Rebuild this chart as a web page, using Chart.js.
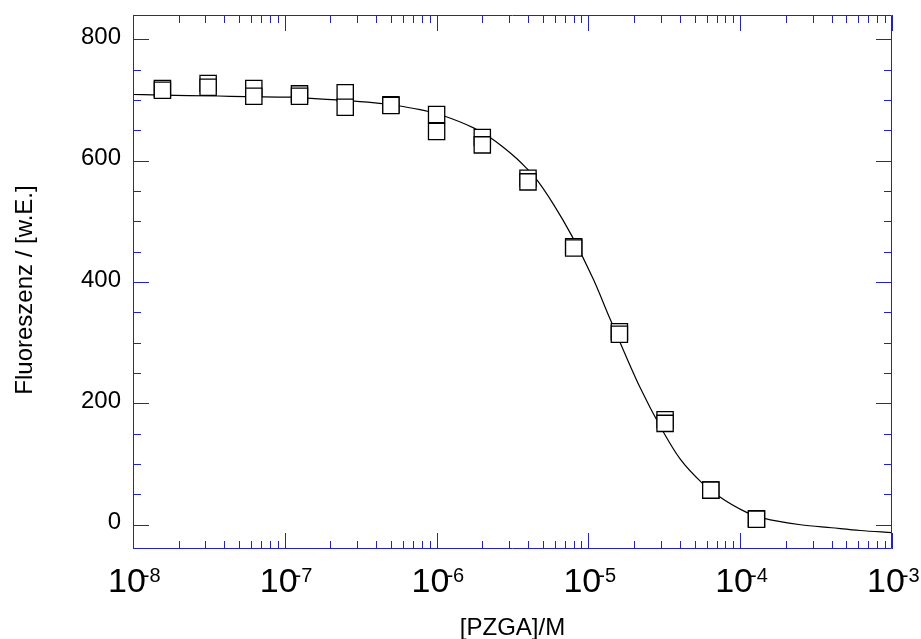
<!DOCTYPE html>
<html>
<head>
<meta charset="utf-8">
<title>Fluoreszenz vs [PZGA]</title>
<script src="https://cdn.jsdelivr.net/npm/chart.js@4/dist/chart.umd.min.js"></script>
<style>
  html, body { margin: 0; padding: 0; background: #fff; }
  #wrap { width: 921px; height: 639px; }
</style>
</head>
<body>
<div id="wrap"><canvas id="my-chart" width="921" height="639"></canvas></div>
<script>
// measured points (two readings per concentration)
const conc = [1.5625e-8, 3.125e-8, 6.25e-8, 1.25e-7, 2.5e-7, 5e-7, 1e-6, 2e-6, 4e-6, 8e-6, 1.6e-5, 3.2e-5, 6.4e-5, 1.28e-4];
const fluorA = [719, 727, 719, 710, 712, 692, 676, 638, 571, 458, 318, 173, 57, 10];
const fluorB = [716, 721, 706, 706, 688, 691, 648, 626, 565, 456, 314, 167, 57, 9];

// fitted curve
const fitConc = [1e-8, 1.56e-8, 3.63e-8, 5.47e-8, 1.08e-7, 1.4e-7, 2.2e-7, 2.76e-7, 4.36e-7, 5.6e-7, 7.78e-7, 8.83e-7,
  1.11e-6, 1.75e-6, 2.25e-6, 2.75e-6, 3.38e-6, 3.89e-6, 4.46e-6, 5.89e-6, 7.78e-6, 1.08e-5, 1.39e-5, 2.19e-5,
  3.05e-5, 4.03e-5, 5.6e-5, 7.03e-5, 1.11e-4, 1.42e-4, 2.5e-4, 4e-4, 6.18e-4, 1e-3];
const fitFluor = [709, 708, 706.5, 705.5, 704.5, 703, 700, 698.5, 694, 690.5, 684, 681,
  674, 654, 638, 622, 603, 588, 572, 528, 476, 404, 339, 226,
  157, 108, 69, 49, 20, 11, 0, -5, -9.5, -13];

// axes
const xMajor = [1e-8, 1e-7, 1e-6, 1e-5, 1e-4, 1e-3];
const xExponents = ["-8", "-7", "-6", "-5", "-4", "-3"];
const yMajor = [0, 200, 400, 600, 800];
const yLabels = ["0", "200", "400", "600", "800"];
const yMinor = [50, 100, 150, 250, 300, 350, 450, 500, 550, 650, 700, 750];

const axisBlue = "rgb(30, 30, 220)";
const fontName = "'Liberation Sans', Arial, sans-serif";

const framePlugin = {
  id: "frame",
  afterDraw(chart) {
    const ctx = chart.ctx;
    const xs = chart.scales.x;
    const ys = chart.scales.y;
    const a = chart.chartArea;
    ctx.save();
    ctx.strokeStyle = axisBlue;
    ctx.lineWidth = 1;
    ctx.beginPath();
    ctx.rect(a.left + 0.5, a.top + 0.5, a.right - a.left - 1, a.bottom - a.top - 1);
    ctx.stroke();

    // x ticks, bottom and top, pointing inward
    const xMinor = [];
    for (let i = 0; i < xMajor.length - 1; i++) {
      for (let k = 2; k <= 9; k++) xMinor.push(xMajor[i] * k);
    }
    ctx.beginPath();
    xMajor.forEach(v => {
      const px = Math.round(xs.getPixelForValue(v)) + 0.5;
      ctx.moveTo(px, a.bottom); ctx.lineTo(px, a.bottom - 16);
      ctx.moveTo(px, a.top); ctx.lineTo(px, a.top + 16);
    });
    xMinor.forEach(v => {
      const px = Math.round(xs.getPixelForValue(v)) + 0.5;
      ctx.moveTo(px, a.bottom); ctx.lineTo(px, a.bottom - 8);
      ctx.moveTo(px, a.top); ctx.lineTo(px, a.top + 8);
    });
    // y ticks, left and right
    yMajor.forEach(v => {
      const py = Math.round(ys.getPixelForValue(v)) + 0.5;
      ctx.moveTo(a.left, py); ctx.lineTo(a.left + 16, py);
      ctx.moveTo(a.right, py); ctx.lineTo(a.right - 16, py);
    });
    yMinor.forEach(v => {
      const py = Math.round(ys.getPixelForValue(v)) + 0.5;
      ctx.moveTo(a.left, py); ctx.lineTo(a.left + 8, py);
      ctx.moveTo(a.right, py); ctx.lineTo(a.right - 8, py);
    });
    ctx.stroke();

    // tick labels
    ctx.fillStyle = "#000";
    ctx.font = "24px " + fontName;
    ctx.textAlign = "right";
    ctx.textBaseline = "middle";
    yMajor.forEach((v, i) => {
      ctx.fillText(yLabels[i], a.left - 12, ys.getPixelForValue(v) - 2);
    });

    ctx.textAlign = "left";
    ctx.textBaseline = "alphabetic";
    xMajor.forEach((v, i) => {
      const px = xs.getPixelForValue(v);
      ctx.font = "34px " + fontName;
      ctx.fillText("10", px - 25, 592);
      const w = ctx.measureText("10").width;
      ctx.font = "20px " + fontName;
      ctx.fillText(xExponents[i], px - 25 + w - 3, 582);
    });

    // axis titles
    ctx.font = "24px " + fontName;
    ctx.textAlign = "center";
    ctx.fillText("[PZGA]/M", (a.left + a.right) / 2, 635);
    ctx.translate(32, 290);
    ctx.rotate(-Math.PI / 2);
    ctx.textBaseline = "alphabetic";
    ctx.fillText("Fluoreszenz / [w.E.]", 0, 0);
    ctx.restore();
  }
};

const toPoints = (xsArr, ysArr) => xsArr.map((x, i) => ({ x: x, y: ysArr[i] }));

const ctx = document.getElementById("my-chart").getContext("2d");
const chart = new Chart(ctx, {
  type: "scatter",
  data: {
    datasets: [
      {
        label: "Messung 1",
        data: toPoints(conc, fluorA),
        pointStyle: "rect",
        pointRadius: 11.5,
        pointBorderWidth: 1.3,
        borderColor: "#000",
        backgroundColor: "#fff",
        order: 1
      },
      {
        label: "Messung 2",
        data: toPoints(conc, fluorB),
        pointStyle: "rect",
        pointRadius: 11.5,
        pointBorderWidth: 1.3,
        borderColor: "#000",
        backgroundColor: "#fff",
        order: 0
      },
      {
        label: "Fit",
        data: toPoints(fitConc, fitFluor),
        showLine: true,
        pointRadius: 0,
        borderColor: "#000",
        borderWidth: 1.2,
        cubicInterpolationMode: "monotone",
        order: 2
      }
    ]
  },
  options: {
    responsive: false,
    animation: false,
    layout: { padding: { top: 15, right: 29, left: 0, bottom: 0 } },
    plugins: { legend: { display: false }, tooltip: { enabled: false } },
    scales: {
      x: {
        type: "logarithmic",
        min: 1e-8,
        max: 1e-3,
        grid: { display: false },
        border: { display: false },
        ticks: { display: false },
        afterFit: s => { s.height = 90; }
      },
      y: {
        type: "linear",
        min: -40,
        max: 840,
        grid: { display: false },
        border: { display: false },
        ticks: { display: false },
        afterFit: s => { s.width = 133; }
      }
    }
  },
  plugins: [framePlugin]
});
</script>
</body>
</html>
